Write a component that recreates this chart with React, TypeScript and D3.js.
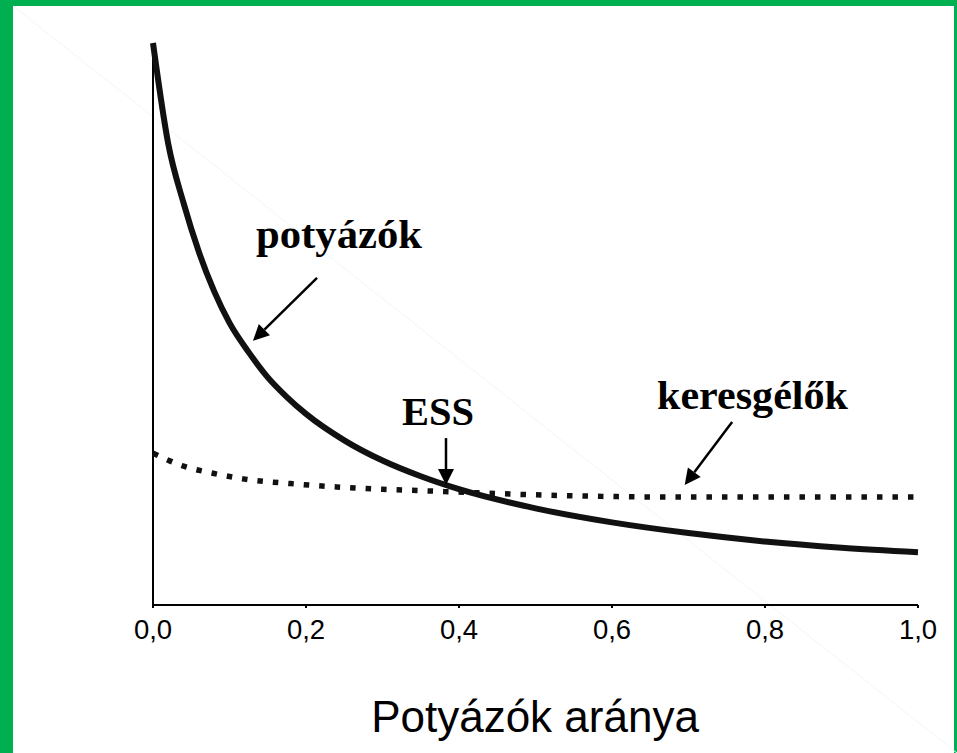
import React from "react";
import * as d3 from "d3";

const W = 957;
const H = 753;

const xTicks = [0, 0.2, 0.4, 0.6, 0.8, 1.0];
const xTickLabels = ["0,0", "0,2", "0,4", "0,6", "0,8", "1,0"];

// potyázók (solid curve)
const potyX = [0, 0.02, 0.04, 0.06, 0.08, 0.1, 0.125, 0.15, 0.175, 0.2, 0.25, 0.3, 0.35, 0.4, 0.5, 0.6, 0.7, 0.8, 0.9, 1.0];
const potyY = [10, 8.2, 7.15, 6.28, 5.58, 5.02, 4.5, 4.05, 3.7, 3.4, 2.93, 2.57, 2.29, 2.06, 1.72, 1.47, 1.28, 1.13, 1.02, 0.94];

// keresgélők (dotted curve)
const kerX = [0, 0.04, 0.08, 0.12, 0.18, 0.24, 0.3, 0.38, 0.5, 0.6, 0.7, 0.8, 0.9, 1.0];
const kerY = [2.7, 2.47, 2.34, 2.24, 2.16, 2.1, 2.06, 2.02, 1.96, 1.93, 1.92, 1.92, 1.92, 1.92];

const labels = ["potyázók", "ESS", "keresgélők"];
const xTitle = "Potyázók aránya";

export default function App() {
  const x = d3.scaleLinear().domain([0, 1]).range([153, 918]);
  const y = d3.scaleLinear().domain([0, 10]).range([605, 43]);

  const line = d3
    .line<[number, number]>()
    .x((d) => x(d[0]))
    .y((d) => y(d[1]))
    .curve(d3.curveMonotoneX);

  const potyPath = line(potyX.map((v, i) => [v, potyY[i]]) as [number, number][]) || "";
  const kerPath = line(kerX.map((v, i) => [v, kerY[i]]) as [number, number][]) || "";

  const arrows = [
    { x1: 0.2144, y1: 5.82, x2: 0.1307, y2: 4.7 },
    { x1: 0.383, y1: 2.97, x2: 0.383, y2: 2.135 },
    { x1: 0.757, y1: 3.256, x2: 0.695, y2: 2.135 },
  ];

  const labelPos = [
    { x: 256, y: 248, w: 166 },
    { x: 402, y: 425, w: 72 },
    { x: 657, y: 409, w: 191 },
  ];

  const arrowEls = arrows.map((a, i) => {
    const X1 = x(a.x1), Y1 = y(a.y1), X2 = x(a.x2), Y2 = y(a.y2);
    const ang = Math.atan2(Y2 - Y1, X2 - X1);
    const L = 16, hw = 8;
    const bx = X2 - L * Math.cos(ang);
    const by = Y2 - L * Math.sin(ang);
    const px = -Math.sin(ang) * hw;
    const py = Math.cos(ang) * hw;
    return (
      <g key={i}>
        <line x1={X1} y1={Y1} x2={bx} y2={by} stroke="#000" strokeWidth={2.5} />
        <polygon points={`${X2},${Y2} ${bx + px},${by + py} ${bx - px},${by - py}`} fill="#000" />
      </g>
    );
  });

  return (
    <svg
      width={W}
      height={H}
      style={{ position: "absolute", left: 0, top: 0, display: "block" }}
    >
      <rect x={0} y={0} width={W} height={H} fill="#00B050" />
      <rect x={13} y={6} width={941} height={H - 6} fill="#ffffff" />
      <line x1={13} y1={6} x2={957} y2={753} stroke="#f0f6f6" strokeWidth={1} />

      {/* axes */}
      <line x1={x(0)} y1={y(10)} x2={x(0)} y2={y(0)} stroke="#000" strokeWidth={2} />
      <line x1={x(0)} y1={y(0)} x2={x(1)} y2={y(0)} stroke="#000" strokeWidth={2} />
      {xTicks.map((t, i) => (
        <g key={i}>
          <line x1={x(t)} y1={y(0)} x2={x(t)} y2={y(0) + 3} stroke="#000" strokeWidth={2} />
          <text
            x={x(t)}
            y={639}
            textAnchor="middle"
            fontFamily="'Liberation Sans', Arial, sans-serif"
            fontSize={27.5}
            fill="#000"
          >
            {xTickLabels[i]}
          </text>
        </g>
      ))}

      {/* curves */}
      <path d={kerPath} fill="none" stroke="#111" strokeWidth={5.5} strokeDasharray="5.5 10" />
      <path d={potyPath} fill="none" stroke="#111" strokeWidth={6} strokeLinejoin="round" />

      {arrowEls}

      {labels.map((l, i) => (
        <text
          key={l}
          x={labelPos[i].x}
          y={labelPos[i].y}
          fontFamily="'Liberation Serif', 'Times New Roman', serif"
          fontWeight="bold"
          fontSize={41}
          textLength={labelPos[i].w}
          lengthAdjust="spacingAndGlyphs"
          fill="#000"
        >
          {l}
        </text>
      ))}

      <text
        x={535}
        y={732}
        textAnchor="middle"
        fontFamily="'Liberation Sans', Arial, sans-serif"
        fontSize={44}
        fill="#000"
      >
        {xTitle}
      </text>
    </svg>
  );
}
